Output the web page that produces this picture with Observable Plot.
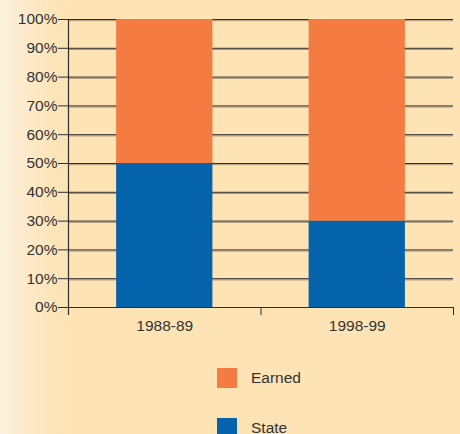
<!DOCTYPE html>
<html>
<head>
<meta charset="utf-8">
<script src="https://cdn.jsdelivr.net/npm/d3@7"></script>
<script src="https://cdn.jsdelivr.net/npm/@observablehq/plot@0.6"></script>
<style>
  html, body { margin: 0; padding: 0; }
  body {
    width: 460px; height: 434px; overflow: hidden;
    background: linear-gradient(to right, #fdf0de 0px, #fde6bd 45px, #fee3b5 70px, #fee3b5 460px);
    font-family: "Liberation Sans", Arial, sans-serif;
  }
  #chart svg { display: block; background: transparent; }
  .legend { padding-left: 217px; margin-top: 28px; }
  .item { display: flex; align-items: center; height: 20px; margin-bottom: 30px; font-size: 15.5px; color: #333; }
  .sw { width: 20px; height: 20px; margin-right: 14px; }
</style>
</head>
<body>
<div id="chart"></div>
<div class="legend" id="legend"></div>
<script>
const categories = ["1988-89", "1998-99"];
const seriesNames = ["State", "Earned"];
const stateValues = [50, 30];
const earnedValues = [50, 70];
const yTicks = [0, 10, 20, 30, 40, 50, 60, 70, 80, 90, 100];
const colors = {State: "#0563ab", Earned: "#f47b42"};

const rows = [];
categories.forEach((c, i) => {
  rows.push({cat: c, idx: i, series: "State", y1: 0, y2: stateValues[i]});
  rows.push({cat: c, idx: i, series: "Earned", y1: stateValues[i], y2: stateValues[i] + earnedValues[i]});
});

const plot = Plot.plot({
  width: 460,
  height: 340,
  marginLeft: 68,
  marginRight: 7,
  marginTop: 19,
  marginBottom: 33,
  style: {background: "transparent", fontFamily: "Liberation Sans, Arial, sans-serif", color: "#333"},
  x: {type: "linear", domain: [0, categories.length], axis: null},
  y: {type: "linear", domain: [0, 100], axis: null},
  marks: [
    Plot.ruleY(yTicks.filter(d => d > 0), {stroke: "#a8967a", strokeWidth: 1, dy: 1.2}),
    Plot.ruleY(yTicks.filter(d => d > 0), {stroke: "#2e2e2e", strokeWidth: 1}),
    Plot.rectY(rows, {x1: d => d.idx + 0.25, x2: d => d.idx + 0.75, y1: "y1", y2: "y2", fill: d => colors[d.series]}),
    Plot.ruleY([0], {stroke: "#2e2e2e", strokeWidth: 1.2}),
    Plot.ruleX([0], {y1: -2.8, y2: 100, stroke: "#2e2e2e", strokeWidth: 1.2}),
    Plot.ruleX(d3.range(1, categories.length + 1), {y1: -2.8, y2: 0, stroke: "#2e2e2e", strokeWidth: 1}),
    Plot.axisY({ticks: yTicks, tickFormat: d => d + "%", tickSize: 10, tickPadding: 1, fontSize: 15.5, color: "#333", stroke: "#2e2e2e"}),
    Plot.text(categories, {x: (d, i) => i + 0.5, y: 0, text: d => d, dy: 19, fontSize: 15.5, fill: "#333"})
  ]
});
document.getElementById("chart").append(plot);

const legend = document.getElementById("legend");
["Earned", "State"].forEach(s => {
  const it = document.createElement("div");
  it.className = "item";
  const sw = document.createElement("div");
  sw.className = "sw";
  sw.style.background = colors[s];
  const lab = document.createElement("span");
  lab.textContent = s;
  it.append(sw, lab);
  legend.append(it);
});
</script>
</body>
</html>
